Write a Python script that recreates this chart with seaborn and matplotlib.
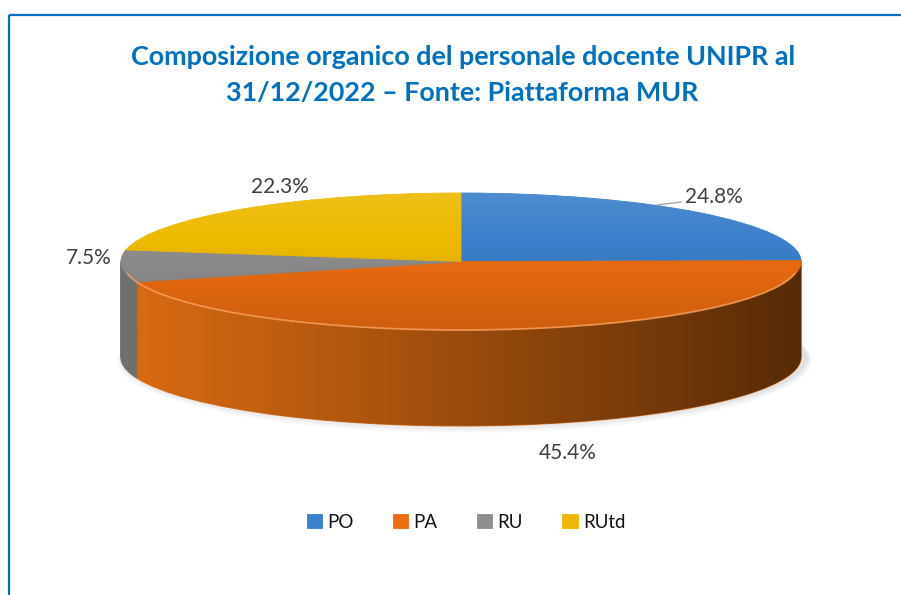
import numpy as np
import matplotlib
matplotlib.use("Agg")
import matplotlib.pyplot as plt
import seaborn as sns
from matplotlib.patches import Ellipse, Arc, PathPatch
from matplotlib.path import Path

# ---------------- data ----------------
categories = ["PO", "PA", "RU", "RUtd"]
values = [24.8, 45.4, 7.5, 22.3]
value_labels = ["24.8%", "45.4%", "7.5%", "22.3%"]
title_lines = ["Composizione organico del personale docente UNIPR al",
               "31/12/2022 \u2013 Fonte: Piattaforma MUR"]

# ---------------- style ----------------
top_colors = ["#3A80CA", "#EE6D10", "#8E8E8E", "#EDB900"]
side_colors = ["#2A5E96", "#DA6B12", "#707070", "#C89C00"]

sns.set_theme(style="white")
plt.rcParams["font.family"] = ["Lato", "DejaVu Sans"]

W, H = 901, 595
fig = plt.figure(figsize=(W / 100, H / 100), dpi=100)
fig.patch.set_facecolor("white")

# pie axes geometry (pixels)
cx, cy, rx, ry = 461, 261.5, 340, 68.5
L, R, T, B = 101, 821, 150, 470
ax = fig.add_axes([L / W, (H - B) / H, (R - L) / W, (B - T) / H])
depth = 1.40

# soft shadow under the cylinder
for i, a in enumerate([0.08, 0.10, 0.14]):
    ax.add_patch(Ellipse((0.01, -depth - 0.05 + 0.02 * i), 2.04 - 0.01 * i,
                         2.10 - 0.04 * i, facecolor="#9A9A9A", edgecolor="none",
                         alpha=a, zorder=0.5))

# side of the cylinder: stacked pies
N = 70
for k in range(N):
    off = -depth * (1 - k / N)
    wedges, _ = ax.pie(values, colors=side_colors, startangle=90, counterclock=False,
                       center=(0, off), radius=1,
                       wedgeprops=dict(linewidth=0.8, zorder=1))
    for w in wedges:
        w.set_edgecolor(w.get_facecolor())

# horizontal shading on the side
t = np.linspace(np.pi, 2 * np.pi, 300)
verts = list(zip(np.cos(t), -depth + np.sin(t))) + [(1, 0), (-1, 0), (-1, -depth)]
codes = [Path.MOVETO] + [Path.LINETO] * (len(verts) - 2) + [Path.CLOSEPOLY]
side_clip = PathPatch(Path(verts, codes), transform=ax.transData, facecolor="none",
                      edgecolor="none")
ax.add_patch(side_clip)
grad = np.zeros((1, 256, 4))
grad[..., 3] = np.linspace(0.0, 0.62, 256) ** 1.05
img = ax.imshow(grad, extent=(-1, 1, -depth - 1, 0), aspect="auto",
                interpolation="bicubic", zorder=2)
img.set_clip_path(side_clip)

# top face
top_wedges, _ = ax.pie(values, colors=top_colors, startangle=90, counterclock=False,
                       center=(0, 0), radius=1,
                       wedgeprops=dict(linewidth=0.6, zorder=3))
for w in top_wedges:
    w.set_edgecolor(w.get_facecolor())

# vertical shading on the top face
top_clip = Ellipse((0, 0), 2, 2, transform=ax.transData, facecolor="none",
                   edgecolor="none")
ax.add_patch(top_clip)
s = np.linspace(0, 1, 256)
vg = np.zeros((256, 1, 4))
light = s < 0.35
vg[:, 0, 0] = np.where(light, 1.0, 0.0)
vg[:, 0, 1] = np.where(light, 1.0, 0.0)
vg[:, 0, 2] = np.where(light, 1.0, 0.0)
vg[:, 0, 3] = np.where(light, 0.10 * (0.35 - s) / 0.35, 0.14 * (s - 0.35) / 0.65)
img2 = ax.imshow(vg, extent=(-1, 1, -1, 1), aspect="auto", interpolation="bicubic",
                 zorder=4)
img2.set_clip_path(top_clip)

# highlight rim
ax.add_patch(Arc((0, -0.03), 1.985, 1.94, theta1=188, theta2=352,
                 color="#F7A060", lw=1.3, alpha=0.8, zorder=5))

ax.set_aspect("auto")
ax.set_xlim((L - cx) / rx, (R - cx) / rx)
ax.set_ylim((cy - B) / ry, (cy - T) / ry)
ax.axis("off")

# ---------------- overlay axes in pixel coords ----------------
bg = fig.add_axes([0, 0, 1, 1])
bg.set_zorder(10)
bg.patch.set_visible(False)
bg.set_xlim(0, W)
bg.set_ylim(H, 0)
bg.axis("off")

# border
bg.plot([9, W], [15, 15], color="#0070C0", lw=1.6, solid_capstyle="butt")
bg.plot([9, 9], [15, H], color="#0070C0", lw=1.6, solid_capstyle="butt")

# title
bg.text(463, 57, title_lines[0], ha="center", va="center", fontsize=19.4,
        fontweight="bold", color="#0070C0")
bg.text(462, 93, title_lines[1], ha="center", va="center", fontsize=19.4,
        fontweight="bold", color="#0070C0")

# data labels
label_pos = [(714, 197), (568, 453), (89, 258), (280, 187)]
for (x, y), lab in zip(label_pos, value_labels):
    bg.text(x, y, lab, ha="center", va="center", fontsize=15, color="#404040")
bg.plot([657, 681], [205, 202], color="#A6A6A6", lw=1)

# legend
leg = bg.legend(top_wedges, categories, loc="center", ncol=4,
                bbox_to_anchor=(466 / W, 1 - 522 / H), frameon=False,
                fontsize=13.5, handlelength=0.82, handleheight=0.82,
                handletextpad=0.28, columnspacing=2.1, labelcolor="#111111")

fig.savefig("out.png", dpi=100, facecolor="white")
